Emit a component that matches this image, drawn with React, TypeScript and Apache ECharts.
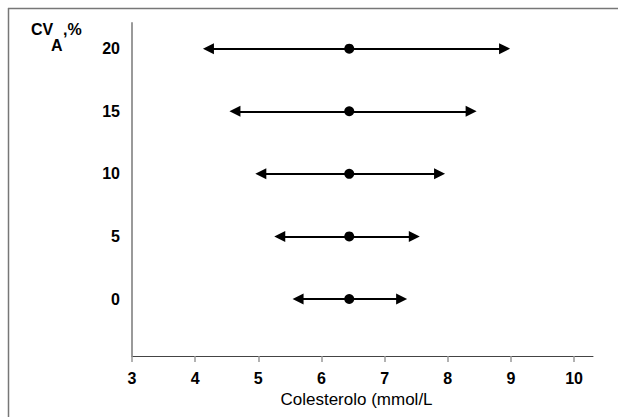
import React, { useEffect, useRef } from "react";
import * as echarts from "echarts";

const cvLevels = [0, 5, 10, 15, 20];
const lowValues = [5.63, 5.34, 5.04, 4.63, 4.21];
const highValues = [7.27, 7.47, 7.87, 8.37, 8.9];
const meanValues = [6.44, 6.44, 6.44, 6.44, 6.44];
const xTickValues = [3, 4, 5, 6, 7, 8, 9, 10];
const yLabelValues = [0, 5, 10, 15, 20];

export default function App() {
  const ref = useRef<HTMLDivElement>(null);
  useEffect(() => {
    if (!ref.current) return;
    const chart = echarts.init(ref.current, undefined, { renderer: "svg" });
    const font = "Liberation Sans, Arial, sans-serif";
    chart.setOption({
      animation: false,
      backgroundColor: "#ffffff",
      grid: { left: 132, right: 25, top: 23, bottom: 61 },
      xAxis: {
        type: "value",
        min: 3,
        max: 10.3,
        name: "Colesterolo (mmol/L",
        nameLocation: "middle",
        nameGap: 32,
        nameTextStyle: { fontFamily: font, fontSize: 17, color: "#000", padding: [0, 12, 0, 0] },
        axisLine: { show: true, onZero: false, lineStyle: { color: "#444", width: 1 } },
        axisTick: { show: true, length: 6, lineStyle: { color: "#999", width: 1.5 }, customValues: xTickValues },
        axisLabel: {
          customValues: xTickValues,
          fontFamily: font,
          fontSize: 16,
          fontWeight: "bold",
          color: "#000",
          margin: 14,
        },
        splitLine: { show: false },
      },
      yAxis: {
        type: "value",
        min: -4.55,
        max: 22.05,
        axisLine: { show: true, onZero: false, lineStyle: { color: "#9a9a9a", width: 2 } },
        axisTick: { show: false },
        axisLabel: {
          customValues: yLabelValues,
          fontFamily: font,
          fontSize: 16,
          fontWeight: "bold",
          color: "#000",
          margin: 12,
        },
        splitLine: { show: false },
      },
      graphic: [
        { type: "line", shape: { x1: 8, y1: 8.5, x2: 618, y2: 8.5 }, style: { stroke: "#777", lineWidth: 1.5 } },
        { type: "line", shape: { x1: 8.5, y1: 8, x2: 8.5, y2: 417 }, style: { stroke: "#777", lineWidth: 1.5 } },
        { type: "text", left: 31, top: 21, style: { text: "CV", fontFamily: font, fontSize: 16, fontWeight: "bold", fill: "#000" } },
        { type: "text", left: 51, top: 37, style: { text: "A", fontFamily: font, fontSize: 16, fontWeight: "bold", fill: "#000" } },
        { type: "text", left: 63, top: 21, style: { text: ",%", fontFamily: font, fontSize: 16, fontWeight: "bold", fill: "#000" } },
      ],
      series: [
        {
          type: "lines",
          coordinateSystem: "cartesian2d",
          symbol: ["triangle", "triangle"],
          symbolSize: [11, 11],
          lineStyle: { color: "#000", width: 2, opacity: 1 },
          itemStyle: { color: "#000", opacity: 1 },
          data: cvLevels.map((cv, i) => ({
            coords: [
              [lowValues[i], cv],
              [highValues[i], cv],
            ],
          })),
          z: 2,
        },
        {
          type: "scatter",
          symbol: "circle",
          symbolSize: 10,
          itemStyle: { color: "#000", opacity: 1 },
          data: cvLevels.map((cv, i) => [meanValues[i], cv]),
          z: 3,
        },
      ],
    });
    return () => chart.dispose();
  }, []);
  return (
    <div
      ref={ref}
      style={{ position: "absolute", left: 0, top: 0, width: 618, height: 417 }}
    />
  );
}
